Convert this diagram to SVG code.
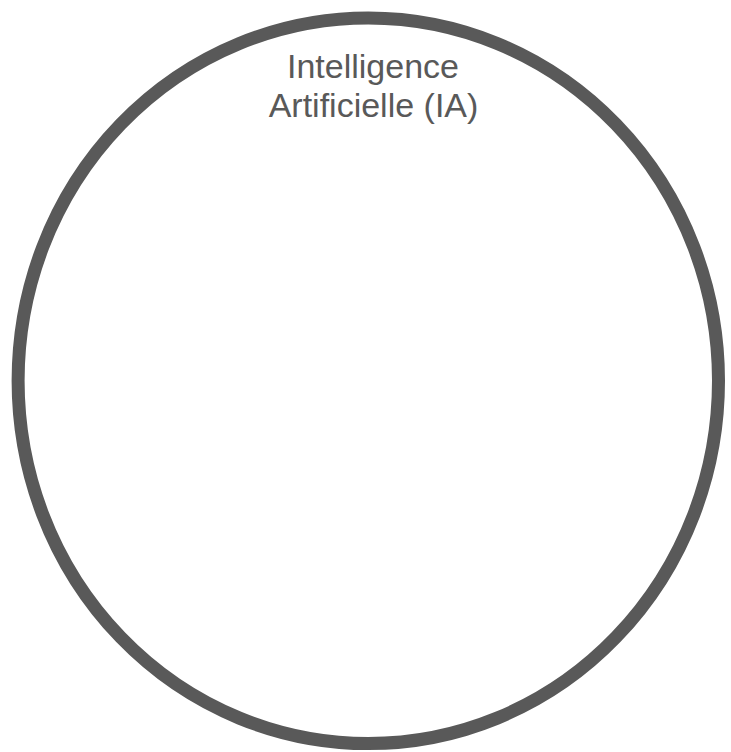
<svg xmlns="http://www.w3.org/2000/svg" width="731" height="752" viewBox="0 0 731 752">
<style>
.ring{fill:#ffffff;stroke:#595959;stroke-width:13}
.lbl{font-family:"Liberation Sans",Arial,sans-serif;font-size:34px;fill:#595959;text-anchor:middle}
</style>
<rect width="731" height="752" fill="#ffffff"/>
<g id="node-ia">
<ellipse class="ring" cx="368.3" cy="380.8" rx="350.2" ry="362.8"/>
<text class="lbl" x="373" y="78">Intelligence</text>
<text class="lbl" x="373.5" y="117">Artificielle (IA)</text>
</g>
<g id="connectors"></g>
</svg>
